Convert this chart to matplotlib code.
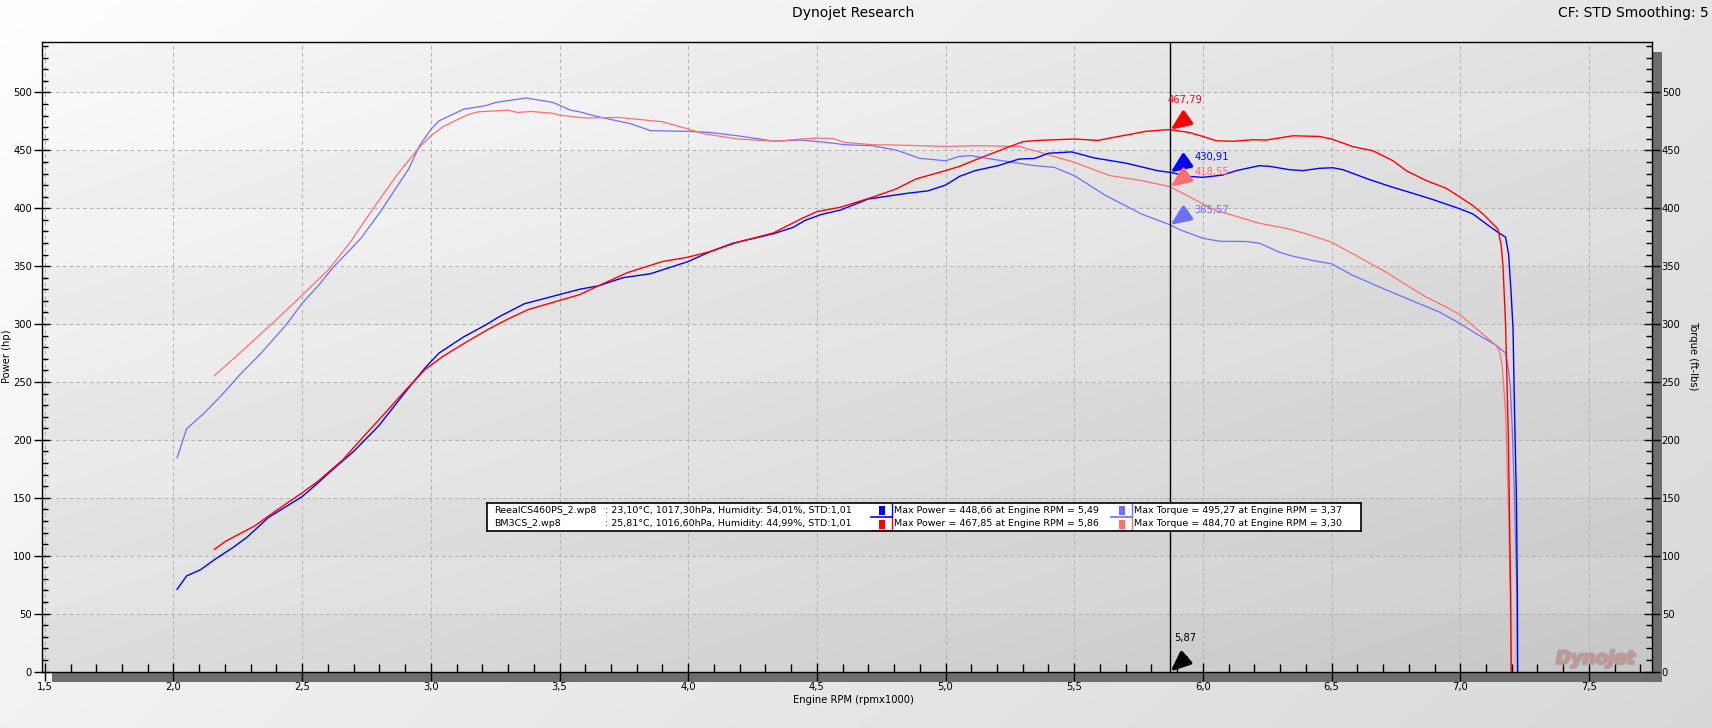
import numpy as np
import matplotlib
matplotlib.use("Agg")
import matplotlib.pyplot as plt
from matplotlib.patches import Rectangle
from matplotlib.lines import Line2D
from matplotlib.ticker import MultipleLocator, FuncFormatter
import matplotlib.patheffects as pe

plt.rcParams['font.family'] = ['DejaVu Sans']

# ---------------- data ----------------
# Run A: ReealCS460PS_2  (power = dark blue, torque = light blue)
rpm_power_A = [2.014, 2.051, 2.106, 2.162, 2.231, 2.286, 2.369, 2.5, 2.555, 2.604, 2.7, 2.797,
               2.907, 2.977, 3.032, 3.128, 3.211, 3.267, 3.363, 3.5, 3.577, 3.651, 3.746, 3.854,
               4.0, 4.085, 4.169, 4.331, 4.408, 4.454, 4.515, 4.592, 4.7, 4.777, 4.854, 4.931,
               5.0, 5.054, 5.115, 5.208, 5.285, 5.346, 5.4, 5.49, 5.577, 5.7, 5.823, 5.874,
               5.946, 6.0, 6.078, 6.13, 6.22, 6.259, 6.337, 6.389, 6.453, 6.505, 6.544, 6.648,
               6.738, 6.816, 6.894, 7.0, 7.049, 7.101, 7.146, 7.176, 7.188, 7.198, 7.205, 7.211,
               7.218, 7.222, 7.223]
hp_power_A = [71, 82.5, 88, 97, 107, 116, 133, 151, 161.5, 171.5, 190, 212,
              243, 262, 275, 289, 299, 306.5, 317.5, 325.5, 330, 333, 340, 343.5,
              354, 362.5, 369.5, 378, 383.5, 389.5, 394.5, 398.5, 408, 410.5, 413, 415,
              420, 427.5, 432.5, 437, 442.5, 443, 447.5, 448.66, 443.5, 439, 432.5, 430.91,
              427.5, 426.7, 428.7, 432.5, 436.8, 436.2, 433.3, 432.5, 434.5, 435, 433.3, 424.7,
              418.1, 412.9, 407.5, 399.4, 395.1, 386.5, 379.3, 375, 360, 325, 296, 223,
              151, 65, 0]

rpm_torque_A = [2.014, 2.051, 2.12, 2.189, 2.258, 2.341, 2.438, 2.5, 2.562, 2.617, 2.728, 2.804,
                2.914, 2.956, 3.0, 3.032, 3.128, 3.211, 3.253, 3.37, 3.474, 3.543, 3.577, 3.651,
                3.777, 3.854, 4.0, 4.085, 4.192, 4.331, 4.438, 4.531, 4.608, 4.715, 4.808, 4.9,
                5.0, 5.054, 5.1, 5.192, 5.346, 5.423, 5.5, 5.623, 5.762, 5.874, 5.909, 6.0,
                6.065, 6.168, 6.22, 6.298, 6.35, 6.427, 6.5, 6.583, 6.687, 6.764, 6.842, 6.92,
                7.0, 7.062, 7.14, 7.176, 7.185, 7.194, 7.202, 7.211, 7.22, 7.222]
tq_torque_A = [184.5, 209.5, 223.3, 239, 256.3, 275, 299.4, 318, 333, 348, 374, 397,
               434, 454, 468, 475.5, 485.6, 488.5, 491.4, 495.27, 491.4, 484.7, 483.3, 479,
               473, 467, 466.4, 465.5, 462.6, 458, 458.9, 457, 454.9, 454, 450.3, 443.1,
               441, 444.8, 445.4, 442, 436.8, 435.3, 428.2, 410.9, 395, 385.57, 381.6, 374.1,
               371.5, 371.3, 369.8, 362, 358.6, 354.9, 352, 342, 331.9, 324.7, 317.5, 310.3,
               300.3, 291.7, 281.6, 275, 264, 247, 209, 148, 65, 0]

# Run B: BM3CS_2  (power = red, torque = light red)
rpm_power_B = [2.159, 2.203, 2.314, 2.396, 2.5, 2.562, 2.659, 2.728, 2.811, 2.894, 2.977, 3.046,
               3.142, 3.225, 3.294, 3.377, 3.501, 3.577, 3.651, 3.762, 3.9, 4.0, 4.085, 4.192,
               4.331, 4.438, 4.5, 4.592, 4.715, 4.808, 4.885, 5.0, 5.054, 5.131, 5.208, 5.3,
               5.362, 5.5, 5.592, 5.638, 5.731, 5.777, 5.86, 5.874, 5.946, 6.0, 6.052, 6.117,
               6.194, 6.246, 6.35, 6.453, 6.5, 6.583, 6.66, 6.738, 6.79, 6.868, 6.946, 7.0,
               7.049, 7.088, 7.146, 7.159, 7.166, 7.176, 7.187, 7.196, 7.198]
hp_power_B = [105.5, 112.5, 125.5, 138.5, 154.3, 164.4, 183, 200.3, 220.4, 241, 260.6, 272,
              285, 295.7, 303.7, 312.4, 320.5, 325.3, 333, 344.3, 354, 357.8, 362.6, 370.7,
              378.7, 390.8, 397.1, 400.9, 409.5, 416.7, 425.3, 432.5, 436.2, 443.1, 449.7, 457.5,
              458.6, 459.8, 458.6, 460.6, 464.4, 466.4, 467.85, 467.79, 465.5, 462, 458.3, 457.8,
              459.2, 458.9, 462.6, 462, 459.8, 453.2, 449.7, 441.1, 432.5, 423.9, 417.2, 409.5,
              402.3, 395.1, 382.2, 368, 350, 300, 200, 65, 0]

rpm_torque_B = [2.159, 2.258, 2.396, 2.5, 2.604, 2.686, 2.783, 2.866, 2.949, 3.0, 3.046, 3.142,
                3.184, 3.30, 3.336, 3.39, 3.474, 3.501, 3.598, 3.731, 3.9, 3.992, 4.054, 4.192,
                4.346, 4.438, 4.5, 4.562, 4.608, 4.715, 4.808, 5.0, 5.115, 5.285, 5.346, 5.5,
                5.638, 5.762, 5.874, 5.909, 6.0, 6.052, 6.142, 6.22, 6.324, 6.402, 6.5, 6.583,
                6.712, 6.79, 6.868, 6.946, 7.0, 7.062, 7.14, 7.153, 7.163, 7.176, 7.188, 7.194,
                7.197]
tq_torque_B = [255.5, 275, 303, 325, 347.3, 370.4, 402, 428, 451, 462.6, 470.3, 480.7,
               483.3, 484.7, 482.7, 483.6, 482, 480.4, 478, 478.4, 474.7, 469, 464.7, 459.8,
               457.8, 459.8, 460.6, 460.3, 456.9, 454.9, 454.6, 453.4, 454, 453.4, 449.7, 439.7,
               428.2, 423.9, 418.55, 414.4, 403.7, 398, 392.2, 387, 382.7, 377.9, 370.7, 360.6,
               344.8, 333.9, 323.3, 314.7, 308, 296, 281.6, 276, 264, 224, 137, 65,
               0]

run_names = ["ReealCS460PS_2.wp8", "BM3CS_2.wp8"]
run_conditions = [": 23,10°C, 1017,30hPa, Humidity: 54,01%, STD:1,01",
                  ": 25,81°C, 1016,60hPa, Humidity: 44,99%, STD:1,01"]
max_power = [448.66, 467.85]
max_power_rpm = [5.49, 5.86]
max_torque = [495.27, 484.70]
max_torque_rpm = [3.37, 3.30]

cursor_rpm = 5.874
cursor_power = [430.91, 467.79]
cursor_torque = [385.57, 418.55]

col_power = ['#0000ff', '#ff0000']
col_torque = ['#6e6eff', '#ff6e6e']

# ---------------- figure ----------------
W, H = 1712, 728
fig = plt.figure(figsize=(W / 100, H / 100), dpi=100)


def fx(px):
    return px / W


def fy(py):
    return 1 - py / H


# figure background gradient
bg = fig.add_axes([0, 0, 1, 1], zorder=-10)
gx = np.linspace(0, 1, 300)
gy = np.linspace(0, 1, 150)
GX, GY = np.meshgrid(gx, gy)
G = 0.995 - 0.10 * GX - 0.05 * GY
bg.imshow(G, cmap='gray', vmin=0, vmax=1, aspect='auto', extent=(0, 1, 0, 1), origin='upper')
bg.set_xlim(0, 1)
bg.set_ylim(0, 1)
bg.axis('off')

AX_L, AX_R, AX_T, AX_B = 41.7, 1652.0, 41.5, 671.5
SH = 10
# shadows
bg.add_patch(Rectangle((fx(AX_L + SH), fy(AX_B + SH)), fx(AX_R - AX_L), SH / H,
                       color='#6e6e6e', transform=bg.transAxes, lw=0))
bg.add_patch(Rectangle((fx(AX_R), fy(AX_B + SH)), SH / W, (AX_B - AX_T) / H,
                       color='#6e6e6e', transform=bg.transAxes, lw=0))

ax = fig.add_axes([fx(AX_L), fy(AX_B), (AX_R - AX_L) / W, (AX_B - AX_T) / H])
XMIN, XMAX, YMAX = 1.488, 7.745, 544

# plot background: gradient + alternating bands
yy = np.linspace(0, YMAX, 1089)
xx = np.linspace(0, 1, 300)
X, Y = np.meshgrid(xx, yy)
base = 0.985 - 0.085 * X - 0.10 * (1 - Y / YMAX)
band = np.where((np.floor(Y / 50) % 2) == 0, -0.022, 0.0)
ax.imshow(base + band, cmap='gray', vmin=0, vmax=1, aspect='auto',
          extent=(XMIN, XMAX, 0, YMAX), origin='lower', zorder=0, interpolation='nearest')

ax.set_xlim(XMIN, XMAX)
ax.set_ylim(0, YMAX)
ax.set_axisbelow(True)
ax.grid(which='major', linestyle=(0, (3.5, 3)), color='#b2b2b2', lw=0.75)

# curves
ax.plot(rpm_torque_A, tq_torque_A, color=col_torque[0], lw=0.9, zorder=2)
ax.plot(rpm_torque_B, tq_torque_B, color=col_torque[1], lw=0.9, zorder=2)
ax.plot(rpm_power_A, hp_power_A, color=col_power[0], lw=1.0, zorder=3)
ax.plot(rpm_power_B, hp_power_B, color=col_power[1], lw=1.0, zorder=3)

# cursor
ax.axvline(cursor_rpm, color='black', lw=1.0, zorder=4)


def comma(v, d=2):
    return f"{v:.{d}f}".replace('.', ',')


def arrow(x, y, c, dx=17, dy=12):
    ax.annotate('', xy=(x, y), xytext=(dx, dy), textcoords='offset pixels',
                arrowprops=dict(arrowstyle='-|>,head_length=0.85,head_width=0.36',
                                color=c, lw=2.4, shrinkA=0, shrinkB=0, mutation_scale=14),
                zorder=6)


vals = [(cursor_power[1], col_power[1]), (cursor_power[0], col_power[0]),
        (cursor_torque[1], col_torque[1]), (cursor_torque[0], col_torque[0])]
for i, (v, c) in enumerate(vals):
    arrow(cursor_rpm, v, c)
    if i == 0:
        ax.annotate(comma(v), xy=(cursor_rpm, v), xytext=(-3, 30), textcoords='offset pixels',
                    color=c, fontsize=7.2, ha='left', va='center', zorder=7)
    else:
        ax.annotate(comma(v), xy=(cursor_rpm, v), xytext=(24, 15), textcoords='offset pixels',
                    color=c, fontsize=7.2, ha='left', va='center', zorder=7)

arrow(cursor_rpm, 0, 'black', dx=16, dy=14)
ax.annotate(comma(cursor_rpm), xy=(cursor_rpm, 0), xytext=(4, 33), textcoords='offset pixels',
            color='black', fontsize=7.2, ha='left', va='center', zorder=7)

# logo
ax.text(7.525, 11, 'Dynojet', fontsize=13, fontweight='bold', style='italic',
        color='#d49090', alpha=0.8, ha='center', va='center', zorder=5,
        path_effects=[pe.withStroke(linewidth=2.0, foreground='#a0a0a0')])

# ticks
ax.xaxis.set_major_locator(MultipleLocator(0.5))
ax.xaxis.set_minor_locator(MultipleLocator(0.1))
ax.yaxis.set_major_locator(MultipleLocator(50))
ax.yaxis.set_minor_locator(MultipleLocator(10))
ax.xaxis.set_major_formatter(FuncFormatter(lambda v, p: comma(v, 1)))
ax.yaxis.set_major_formatter(FuncFormatter(lambda v, p: f"{int(round(v))}"))
ax.tick_params(axis='x', which='major', direction='inout', length=13, width=1, pad=1,
               labelsize=7.2, top=False)
ax.tick_params(axis='x', which='minor', direction='in', length=6, width=1, top=False)
ax.tick_params(axis='y', which='major', direction='inout', length=12, width=1, pad=1,
               labelsize=7.2, left=True, right=True, labelleft=True, labelright=True)
ax.tick_params(axis='y', which='minor', direction='in', length=4, width=1,
               left=True, right=True)
for s in ax.spines.values():
    s.set_color('black')
    s.set_linewidth(1.0)

# texts
fig.text(fx(853), fy(13), 'Dynojet Research', fontsize=10, ha='center', va='center')
fig.text(fx(1709), fy(13), 'CF: STD Smoothing: 5', fontsize=10, ha='right', va='center')
fig.text(fx(853), fy(700), 'Engine RPM (rpmx1000)', fontsize=7.2, ha='center', va='center')
fig.text(fx(7), fy(356), 'Power (hp)', fontsize=7.2, ha='center', va='center', rotation=90)
fig.text(fx(1693), fy(356), 'Torque (ft-lbs)', fontsize=7.2, ha='center', va='center', rotation=270)

# legend box
LB_L, LB_R, LB_T, LB_B = 487, 1361, 503, 531
bg.add_patch(Rectangle((fx(LB_L + 11), fy(LB_B + 11)), (LB_R - LB_L) / W, (LB_B - LB_T) / H,
                       color='#6e6e6e', transform=bg.transAxes, lw=0, zorder=1))
leg = fig.add_axes([fx(LB_L), fy(LB_B), (LB_R - LB_L) / W, (LB_B - LB_T) / H], zorder=5)
leg.set_xlim(LB_L, LB_R)
leg.set_ylim(LB_B, LB_T)
leg.set_xticks([])
leg.set_yticks([])
leg.set_facecolor('white')
for s in leg.spines.values():
    s.set_color('black')
    s.set_linewidth(1.2)

row_y = [LB_T + 7.5, LB_T + 21]
for i in range(2):
    y = row_y[i]
    leg.text(494, y, run_names[i], fontsize=6.8, va='center', ha='left')
    leg.text(605, y, run_conditions[i], fontsize=6.8, va='center', ha='left')
    leg.text(894, y, f"Max Power = {comma(max_power[i])} at Engine RPM = {comma(max_power_rpm[i])}",
             fontsize=6.8, va='center', ha='left')
    leg.text(1134, y, f"Max Torque = {comma(max_torque[i])} at Engine RPM = {comma(max_torque_rpm[i])}",
             fontsize=6.8, va='center', ha='left')
    for sx, c in [(871, col_power[i]), (1111, col_torque[i])]:
        leg.add_patch(Rectangle((sx + 8, y - 4.5), 6, 9, color=c, lw=0))
        leg.add_line(Line2D([sx, sx + 21], [y + 6.5, y + 6.5], color=c, lw=1.2))
        leg.add_line(Line2D([sx + 21, sx + 21], [y - 6.5, y + 6.5], color=c, lw=1.0))

fig.savefig('out.png', dpi=100)
